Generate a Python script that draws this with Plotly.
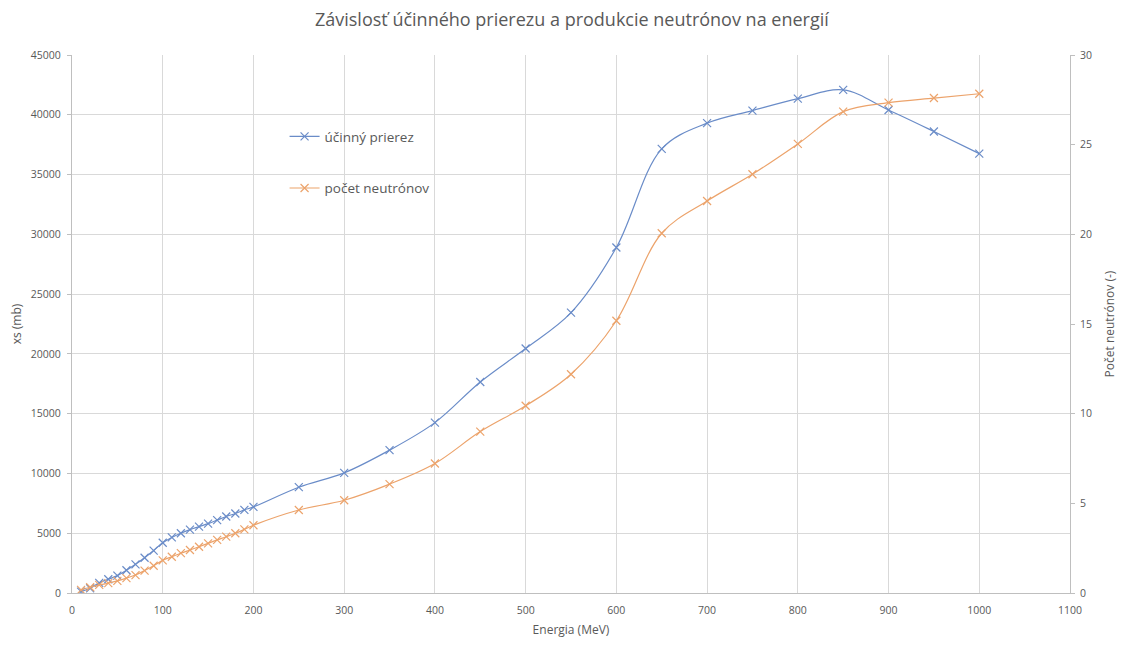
import plotly.graph_objects as go

energia = [10, 20, 30, 40, 50, 60, 70, 80, 90, 100,
           110, 120, 130, 140, 150, 160, 170, 180, 190, 200,
           250, 300, 350, 400, 450, 500, 550, 600, 650, 700,
           750, 800, 850, 900, 950, 1000]

ucinny_prierez = [120, 400, 850, 1150, 1450, 1900, 2400, 2950, 3550, 4200,
                  4650, 5000, 5300, 5550, 5800, 6100, 6400, 6650, 6950, 7200,
                  8850, 10050, 11950, 14250, 17650, 20450, 23450, 28900, 37150, 39300,
                  40350, 41350, 42080, 40400, 38600, 36750]

pocet_neutronov = [0.17, 0.32, 0.45, 0.55, 0.68, 0.83, 1.0, 1.25, 1.52, 1.82,
                   2.02, 2.22, 2.4, 2.58, 2.77, 2.96, 3.14, 3.33, 3.55, 3.78,
                   4.63, 5.17, 6.07, 7.22, 9.0, 10.44, 12.2, 15.18, 20.06, 21.86,
                   23.35, 25.04, 26.84, 27.34, 27.6, 27.84]

BLUE = "#6a8cc8"
ORANGE = "#eca36b"
GREY = "#595959"
GRID = "#d9d9d9"
AXIS = "#bfbfbf"

fig = go.Figure()
fig.add_trace(go.Scatter(
    x=energia, y=ucinny_prierez, name="účinný prierez", legendgroup="a",
    mode="lines+markers", line=dict(color=BLUE, width=1.2, shape="spline"),
    marker=dict(symbol="x-thin", size=8, line=dict(color=BLUE, width=1.2)),
))
fig.add_trace(go.Scatter(
    x=energia, y=pocet_neutronov, name="počet neutrónov", legendgroup="b",
    yaxis="y2",
    mode="lines+markers", line=dict(color=ORANGE, width=1.2, shape="spline"),
    marker=dict(symbol="x-thin", size=8, line=dict(color=ORANGE, width=1.2)),
))

# page body has an 8px margin, so the figure is a bit smaller than the window
fig.update_layout(
    width=1110, height=630,
    paper_bgcolor="white", plot_bgcolor="white",
    font=dict(family="Open Sans", color=GREY, size=10.5),
    margin=dict(l=64, r=48, t=47, b=45),
    title=dict(text="Závislosť účinného prierezu a produkcie neutrónov na energií",
               x=0.508, xanchor="center", y=0.992, yanchor="top",
               font=dict(size=18, color=GREY)),
    legend=dict(x=0.213, y=0.877, xanchor="left", yanchor="top",
                bgcolor="rgba(0,0,0,0)", font=dict(size=13.5, color=GREY),
                tracegroupgap=31),
    showlegend=True,
    xaxis=dict(range=[0, 1100], dtick=100, showgrid=True, gridcolor=GRID,
               showline=True, linecolor=AXIS, zeroline=False, automargin=False,
               ticklabelstandoff=7,
               title=dict(text="Energia (MeV)", font=dict(size=12, color=GREY), standoff=12)),
    yaxis=dict(range=[0, 45000], dtick=5000, tickformat="d", showgrid=True, gridcolor=GRID,
               showline=True, linecolor=AXIS, zeroline=False, automargin=False,
               ticks="outside", ticklen=4, tickcolor=AXIS, ticklabelstandoff=4,
               title=dict(text="xs (mb)", font=dict(size=12, color=GREY), standoff=14)),
    yaxis2=dict(range=[0, 30], dtick=5, overlaying="y", side="right",
                showgrid=False, showline=True, linecolor=AXIS, zeroline=False,
                automargin=False, ticks="outside", ticklen=4, tickcolor=AXIS,
                ticklabelstandoff=3,
                title=dict(text="Počet neutrónov (-)", font=dict(size=12, color=GREY), standoff=16)),
)

fig.write_html("out.html")
